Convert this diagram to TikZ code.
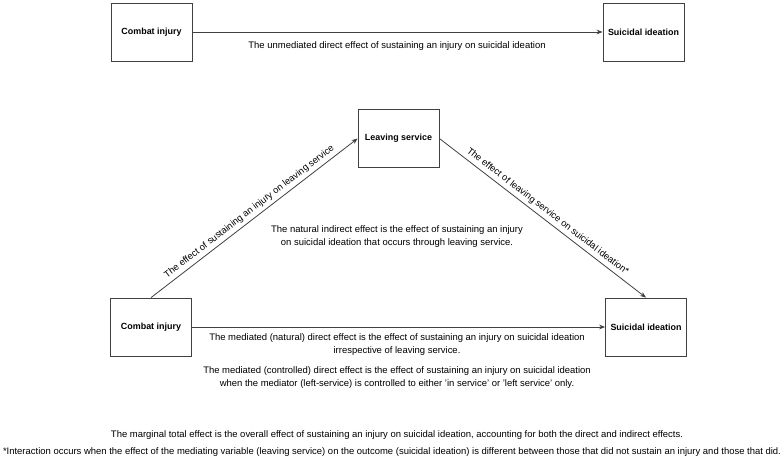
\documentclass[tikz,border=0pt]{standalone}
\usepackage{fontspec}
\setmainfont{Liberation Sans}
\usetikzlibrary{arrows.meta}
\begin{document}
\begin{tikzpicture}[x=0.75pt,y=-0.75pt,
  box/.style={draw=black!75,line width=0.6pt,minimum width=60.75pt,minimum height=43.5pt,inner sep=0pt,font=\fontsize{6.7}{8}\selectfont\bfseries},
  conn/.style={draw=black!75,line width=0.6pt,-{Stealth[length=4.5pt,width=3.5pt]}},
  lbl/.style={font=\fontsize{7.1}{9.75}\selectfont,align=center,inner sep=0pt},
  slbl/.style={font=\fontsize{7}{8}\selectfont,inner sep=2.5pt}]
\useasboundingbox (0,0) rectangle (784,463);
\node[box] (ci1) at (151.5,32) {Combat injury};
\node[box] (si1) at (643.5,32) {Suicidal ideation};
\node[box] (ls) at (398.5,138.5) {Leaving service};
\node[box] (ci2) at (151,327) {Combat injury};
\node[box] (si2) at (646,327) {Suicidal ideation};
\draw[conn] (ci1) -- (si1);
\draw[conn] (ci2.north) -- node[slbl,sloped,above]{The effect of sustaining an injury on leaving service} (ls.west);
\draw[conn] (ls.east) -- node[slbl,sloped,above]{The effect of leaving service on suicidal ideation*} (si2.north);
\draw[conn] (ci2) -- (si2);
\node[lbl] (t1) at (397,46) {The unmediated direct effect of sustaining an injury on suicidal ideation};
\node[lbl] (t2) at (397,237) {The natural indirect effect is the effect of sustaining an injury\\on suicidal ideation that occurs through leaving service.};
\node[lbl] (t3) at (397,344.5) {The mediated (natural) direct effect is the effect of sustaining an injury on suicidal ideation\\irrespective of leaving service.};
\node[lbl] (t4) at (397,377.5) {The mediated (controlled) direct effect is the effect of sustaining an injury on suicidal ideation\\when the mediator (left-service) is controlled to either 'in service' or 'left service' only.};
\node[lbl] (t5) at (397,435) {The marginal total effect is the overall effect of sustaining an injury on suicidal ideation, accounting for both the direct and indirect effects.};
\node[lbl] (t6) at (392,452) {*Interaction occurs when the effect of the mediating variable (leaving service) on the outcome (suicidal ideation) is different between those that did not sustain an injury and those that did.};
\end{tikzpicture}
\end{document}
